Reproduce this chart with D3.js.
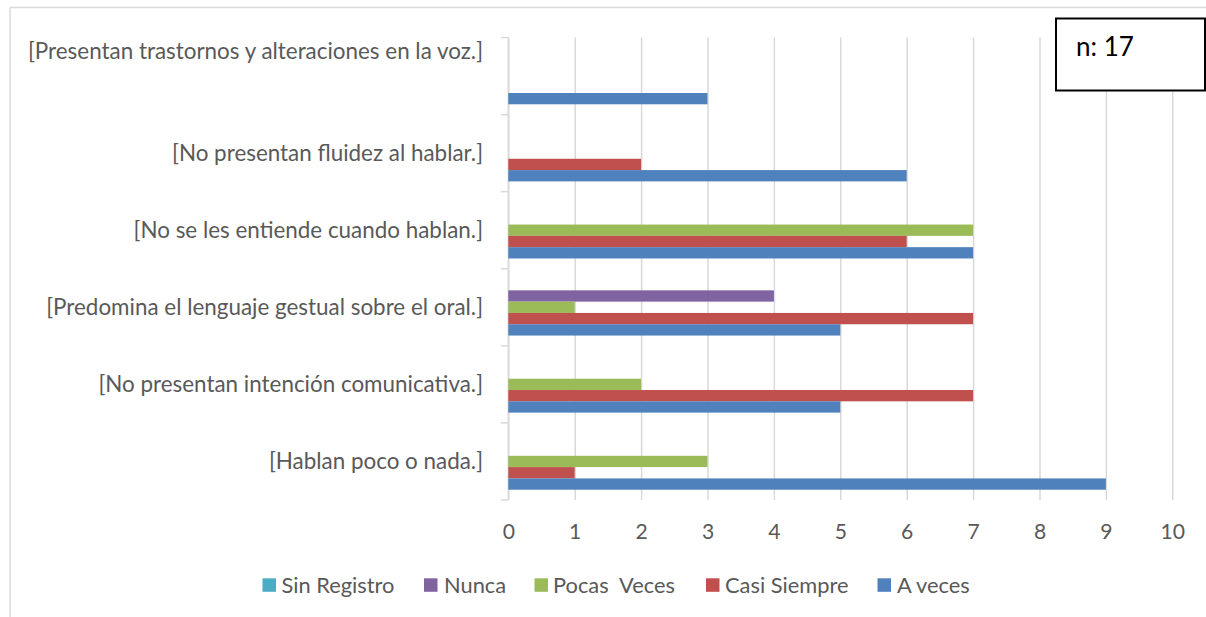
<!DOCTYPE html>
<html><head><meta charset="utf-8">
<script src="https://cdn.jsdelivr.net/npm/d3@7"></script>
<style>
html,body{margin:0;padding:0;background:#fff;}
svg{display:block;}
</style></head>
<body>
<svg id="chart" width="1206" height="617"></svg>
<script>
// ---- data ----
const categories = [
  "[Presentan trastornos y alteraciones en la voz.]",
  "[No presentan fluidez al hablar.]",
  "[No se les entiende cuando hablan.]",
  "[Predomina el lenguaje gestual sobre el oral.]",
  "[No presentan intención comunicativa.]",
  "[Hablan poco o nada.]"
];
const seriesNames = ["Sin Registro", "Nunca", "Pocas  Veces", "Casi Siempre", "A veces"];
const sinRegistro = [0, 0, 0, 0, 0, 0];
const nunca       = [0, 0, 0, 4, 0, 0];
const pocasVeces  = [0, 0, 7, 1, 2, 3];
const casiSiempre = [0, 2, 6, 7, 7, 1];
const aVeces      = [3, 6, 7, 5, 5, 9];
const xTicks = [0, 1, 2, 3, 4, 5, 6, 7, 8, 9, 10];
const noteText = "n: 17";

const seriesValues = [sinRegistro, nunca, pocasVeces, casiSiempre, aVeces];
const colors = ["#4BACC6", "#8064A2", "#9BBB59", "#C0504D", "#4F81BD"];

// ---- font fitting ----
const FAMILY = "Lato, 'Open Sans', 'Noto Sans', sans-serif";
const ctx = document.createElement("canvas").getContext("2d");
function fit(text, target) {
  ctx.font = "100px " + FAMILY;
  const w = ctx.measureText(text).width;
  return 100 * target / w;
}
const labelSize  = fit("[No presentan fluidez al hablar.]", 311);
const tickSize   = fit("10", 24.5);
const legendSize = fit("Sin Registro", 113);
const noteSize   = fit(noteText, 58);

const svg = d3.select("#chart");
const grey = "#d9d9d9";

// outer border (top + left)
svg.append("line").attr("x1", 10).attr("x2", 1206).attr("y1", 7.5).attr("y2", 7.5)
  .attr("stroke", grey).attr("stroke-width", 1.5);
svg.append("line").attr("x1", 10).attr("x2", 10).attr("y1", 7.5).attr("y2", 617)
  .attr("stroke", grey).attr("stroke-width", 1.5);

const plot = {left: 508.3, right: 1172.3, top: 37.5, bottom: 500};
const x = d3.scaleLinear().domain([0, 10]).range([plot.left, plot.right]);
const y = d3.scaleBand().domain(categories).range([plot.top, plot.bottom]).padding(0);
const bw = y.bandwidth();
const gapRatio = 1.82;
const pad = bw * (gapRatio / 2) / (seriesNames.length + gapRatio);
const ys = d3.scaleBand().domain(seriesNames).range([pad, bw - pad]).padding(0);

// x axis + gridlines
const xAxis = d3.axisBottom(x).tickValues(xTicks).tickFormat(d3.format("d"))
  .tickSize(-(plot.bottom - plot.top)).tickPadding(0);
const gx = svg.append("g").attr("transform", `translate(0,${plot.bottom})`).call(xAxis);
gx.select(".domain").remove();
gx.selectAll(".tick line").attr("stroke", grey).attr("stroke-width", 1.5);
gx.selectAll(".tick text")
  .attr("y", 31.7).attr("dy", "0.35em")
  .attr("fill", "#595959").attr("font-family", FAMILY).attr("font-size", tickSize);

// y axis line and category-boundary ticks
svg.append("line").attr("x1", plot.left).attr("x2", plot.left)
  .attr("y1", plot.top).attr("y2", plot.bottom).attr("stroke", grey).attr("stroke-width", 1.5);
const bounds = categories.map(c => y(c)).concat([y(categories[categories.length - 1]) + bw]);
svg.append("g").selectAll("line").data(bounds).join("line")
  .attr("x1", plot.left - 7.5).attr("x2", plot.left)
  .attr("y1", d => d).attr("y2", d => d)
  .attr("stroke", grey).attr("stroke-width", 1.5);

// category labels
const yAxis = d3.axisLeft(y).tickSize(0).tickPadding(plot.left - 483);
const gy = svg.append("g").attr("transform", `translate(${plot.left},0)`).call(yAxis);
gy.select(".domain").remove();
gy.selectAll(".tick text")
  .attr("fill", "#595959").attr("font-family", FAMILY).attr("font-size", labelSize)
  .attr("dy", (d, i) => i === 0 ? "-0.74em" : "0.35em");

// bars
const groups = svg.append("g").selectAll("g").data(categories).join("g")
  .attr("transform", d => `translate(0,${y(d)})`);
groups.selectAll("rect")
  .data((c, ci) => seriesNames.map((s, si) => ({s, si, v: seriesValues[si][ci]})))
  .join("rect")
  .attr("x", x(0))
  .attr("y", d => ys(d.s))
  .attr("width", d => x(d.v) - x(0))
  .attr("height", ys.bandwidth())
  .attr("fill", d => colors[d.si]);

// legend
const legendItems = [
  {sx: 262.5, tx: 281.5},
  {sx: 424.0, tx: 444},
  {sx: 534.5, tx: 553},
  {sx: 706.0, tx: 725},
  {sx: 877.5, tx: 897}
];
const legendY = 585;
const lg = svg.append("g").selectAll("g").data(seriesNames).join("g");
lg.append("rect")
  .attr("x", (d, i) => legendItems[i].sx).attr("y", legendY - 6.7)
  .attr("width", 13.5).attr("height", 13.5)
  .attr("fill", (d, i) => colors[i]);
lg.append("text")
  .attr("x", (d, i) => legendItems[i].tx).attr("y", legendY).attr("dy", "0.35em")
  .attr("fill", "#595959").attr("font-family", FAMILY).attr("font-size", legendSize)
  .attr("xml:space", "preserve").style("white-space", "pre")
  .text(d => d);

// note box
svg.append("rect").attr("x", 1056).attr("y", 18.5).attr("width", 149).attr("height", 72)
  .attr("fill", "#fff").attr("stroke", "#000").attr("stroke-width", 2);
svg.append("text").attr("x", 1076).attr("y", 56)
  .attr("fill", "#000").attr("font-family", FAMILY).attr("font-size", noteSize)
  .text(noteText);
</script>
</body></html>
